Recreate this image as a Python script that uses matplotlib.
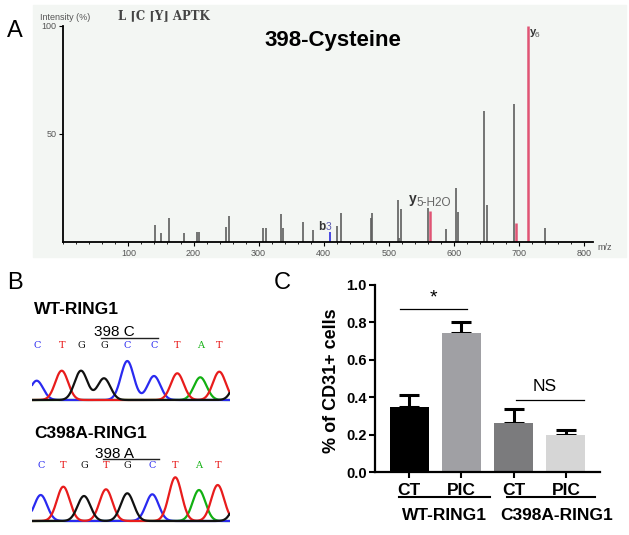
import numpy as np
import matplotlib
matplotlib.use("Agg")
import matplotlib.pyplot as plt
from matplotlib.patches import Rectangle
from matplotlib.ticker import MultipleLocator

plt.rcParams['font.family'] = ['Liberation Sans', 'DejaVu Sans']

# ---- Panel A: MS/MS spectrum ----
peak_mz = [141, 150, 162, 185, 205, 208, 250, 254, 306, 312, 335, 338, 368, 383,
           410, 420, 426, 472, 474, 514, 518, 516, 560, 563, 588, 603, 606, 646, 650,
           692, 695, 713, 739]
peak_int = [7.7, 3.9, 10.8, 4.2, 4.3, 4.3, 7.0, 12.0, 6.2, 6.5, 13.0, 6.2, 9.3, 5.4,
            4.6, 7.3, 13.1, 10.8, 13.1, 19.3, 15.1, 1.5, 15.7, 14.2, 5.7, 25.0, 13.9, 60.5, 17.0,
            63.6, 8.5, 100.0, 6.2]
peak_kind = ['n'] * 14 + ['b'] + ['n'] * 8 + ['y'] + ['n'] * 6 + ['y', 'y', 'n']

# ---- Panel B: sequencing traces ----
wt_bases = ['C', 'T', 'G', 'G', 'C', 'C', 'T', 'A', 'T', 'G']
wt_pos = [5, 30, 49.3, 72.3, 95.6, 122.3, 145.6, 168.6, 187.6, 208]
wt_height = [19.3, 29.3, 29.3, 21.7, 39, 24, 26.7, 22.7, 28.3, 25]
mut_bases = ['C', 'T', 'G', 'T', 'G', 'C', 'T', 'A', 'T', 'G']
mut_pos = [9, 31.6, 52.3, 74.3, 95.6, 120.6, 143.6, 167.3, 186, 208]
mut_height = [26, 34.3, 25, 31.7, 27.7, 26.7, 43.7, 31, 36, 25]

# ---- Panel C: bar chart ----
conditions = ['CT', 'PIC', 'CT', 'PIC']
groups = ['WT-RING1', 'C398A-RING1']
cd31 = [0.346, 0.745, 0.26, 0.20]
cd31_err = [0.067, 0.055, 0.077, 0.022]
bar_colors = ['#000000', '#a0a0a4', '#7b7b7d', '#d6d6d6']

W, H = 629, 535
fig = plt.figure(figsize=(W / 100, H / 100), dpi=100)


def px_axes(x0, y0, x1, y1):
    return fig.add_axes([x0 / W, 1 - y1 / H, (x1 - x0) / W, (y1 - y0) / H])


def ftext(x, y, s, **kw):
    return fig.text(x / W, 1 - y / H, s, **kw)


# background of spectrum panel
fig.patches.append(Rectangle((33 / W, 1 - 257 / H), (626 - 33) / W, (257 - 5) / H,
                             transform=fig.transFigure, color='#f3f6f3', zorder=-5))

axA = px_axes(63.3, 25.7, 592.7, 241.7)
axA.set_facecolor('none')
kind_color = {'n': '#5e5e5e', 'b': '#3a3ae0', 'y': '#e05474'}
kind_lw = {'n': 1.2, 'b': 1.3, 'y': 1.8}
for mz, it, k in zip(peak_mz, peak_int, peak_kind):
    axA.vlines(mz, 0, it, colors=kind_color[k], linewidth=kind_lw[k])
axA.set_xlim(0, 813)
axA.set_ylim(0, 100)
for s in ['top', 'right']:
    axA.spines[s].set_visible(False)
axA.spines['left'].set_linewidth(1.3)
axA.spines['bottom'].set_linewidth(1.3)
axA.set_xticks(range(100, 801, 100))
axA.xaxis.set_minor_locator(MultipleLocator(20))
axA.set_yticks([50, 100])
axA.tick_params(axis='both', which='major', length=3, width=0.8, labelsize=6.5,
                labelcolor='#555555', pad=2)
axA.tick_params(axis='x', which='minor', length=1.5, width=0.6)
axA.text(414, 93, '398-Cysteine', ha='center', va='center', fontsize=16,
         fontweight='bold')
axA.text(392, 5.2, 'b', fontsize=8.5, fontweight='bold', color='#333333')
axA.text(403, 5.2, '3', fontsize=7.5, color='#5a5ab0')
axA.text(530, 17.8, 'y', fontsize=10, fontweight='bold', color='#333333')
axA.text(543, 16.6, '5-H2O', fontsize=8.5, color='#666666')
axA.text(716, 95.6, 'y', fontsize=8, fontweight='bold', color='#333333')
axA.text(723.5, 94.8, '6', fontsize=6, color='#555555')
ftext(40, 17, 'Intensity (%)', fontsize=6.5, color='#555555', va='center')
ftext(118, 16, 'L \u2308C \u2308Y\u230b APTK', fontsize=8.5, fontweight='bold',
      family=['DejaVu Serif'], color='#444444', va='center')
ftext(597, 247, 'm/z', fontsize=6.5, color='#555555', va='center')

# panel letters
ftext(15, 31, 'A', fontsize=17, ha='center', va='center')
ftext(15, 283, 'B', fontsize=17, ha='center', va='center')
ftext(282, 283, 'C', fontsize=17, ha='center', va='center')

# ---- Panel B ----
base_color = {'C': '#2a2af0', 'T': '#e81c1c', 'G': '#111111', 'A': '#12b012'}


def trace_panel(baseline_y, title_y, title, bases, pos, height, label, line_x):
    ax = px_axes(31.7, baseline_y - 75, 230, baseline_y + 2)
    ax.set_xlim(0, 198.3)
    ax.set_ylim(-2, 75)
    ax.axis('off')
    x = np.linspace(0, 198.3, 600)
    for b in ['A', 'C', 'T', 'G']:
        y = np.zeros_like(x)
        for bb, p, h in zip(bases, pos, height):
            if bb == b:
                y += h * np.exp(-0.5 * ((x - p) / 6.4) ** 2)
        ax.plot(x, y, color=base_color[b], linewidth=1.6, solid_capstyle='butt')
    for bb, p in zip(bases[:9], pos[:9]):
        ax.text(p, 55, bb, color=base_color[bb], fontsize=7, ha='center', va='center',
                family=['DejaVu Serif'])
    ax.text(82.5, 67.5, label, fontsize=11, ha='center', va='center')
    ax.plot(line_x, [62.2, 62.2], color='#222222', linewidth=1.0)
    ftext(33.8, title_y, title, fontsize=12.5, fontweight='bold', va='center')


trace_panel(400, 310, 'WT-RING1', wt_bases, wt_pos, wt_height, '398 C', [69.3, 126])
trace_panel(521, 433, 'C398A-RING1', mut_bases, mut_pos, mut_height, '398 A', [71, 127.6])

# ---- Panel C ----
axC = px_axes(375, 285, 600, 472)
xpos = np.arange(len(cd31))
axC.bar(xpos, cd31, width=0.745, color=bar_colors, zorder=2)
axC.errorbar(xpos, cd31, yerr=[[0] * 4, cd31_err], fmt='none', ecolor='black',
             elinewidth=2.2, capsize=7.2, capthick=2.2, zorder=1)
axC.set_xlim(-0.65, 3.65)
axC.set_ylim(0, 1.0)
axC.set_yticks(np.arange(0, 1.01, 0.2))
axC.set_yticklabels([f'{v:.1f}' for v in np.arange(0, 1.01, 0.2)])
axC.set_xticks(xpos)
axC.set_xticklabels(conditions)
for s in ['top', 'right']:
    axC.spines[s].set_visible(False)
for s in ['left', 'bottom']:
    axC.spines[s].set_linewidth(1.6)
axC.tick_params(axis='y', length=4, width=1.5, labelsize=10.5, pad=2)
axC.tick_params(axis='x', length=4, width=1.5, labelsize=12.5, pad=4)
for lab in axC.get_xticklabels() + axC.get_yticklabels():
    lab.set_fontweight('bold')
ftext(332, 381, '% of CD31+ cells', rotation=90, fontsize=13, fontweight='bold',
      ha='center', va='center')

trans = axC.get_xaxis_transform()
axC.plot([-0.19, 1.55], [-0.135, -0.135], color='black', linewidth=1.5,
         transform=trans, clip_on=False)
axC.plot([1.87, 3.56], [-0.135, -0.135], color='black', linewidth=1.5,
         transform=trans, clip_on=False)
axC.text(0.68, -0.23, groups[0], transform=trans, ha='center', va='center',
         fontsize=12.5, fontweight='bold')
axC.text(2.82, -0.23, groups[1], transform=trans, ha='center', va='center',
         fontsize=12.5, fontweight='bold')
axC.plot([-0.17, 1.11], [0.87, 0.87], color='black', linewidth=0.9)
axC.text(0.46, 0.93, '*', ha='center', va='center', fontsize=14)
axC.plot([2.05, 3.35], [0.383, 0.383], color='black', linewidth=0.9)
axC.text(2.6, 0.455, 'NS', ha='center', va='center', fontsize=12.5)

fig.savefig('out.png', dpi=100)
